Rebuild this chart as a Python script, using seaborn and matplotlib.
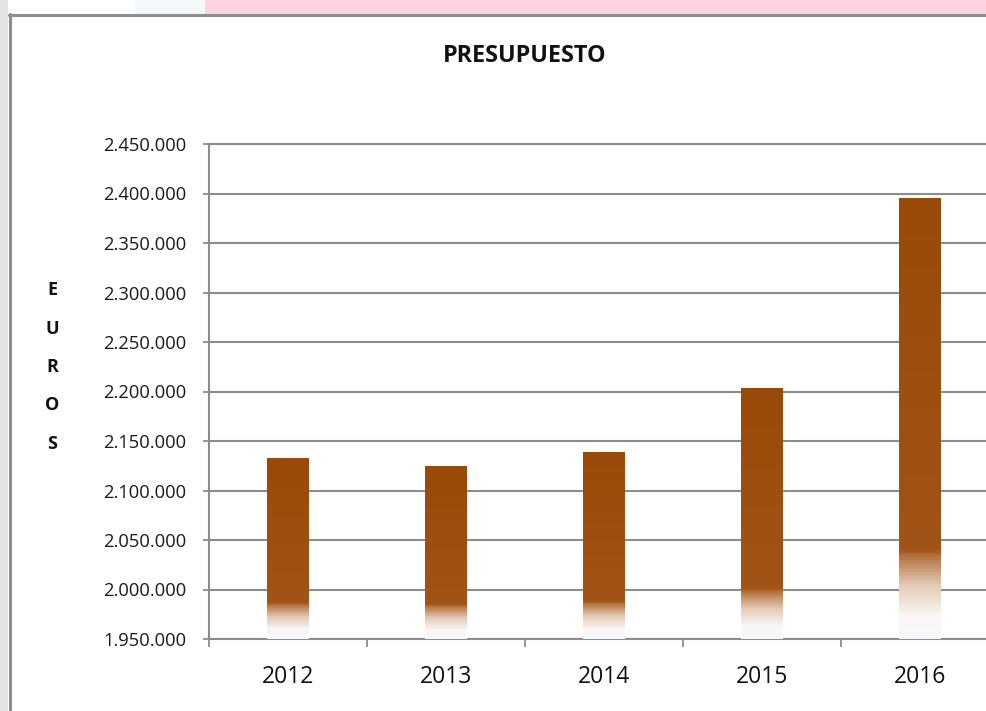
import numpy as np
import pandas as pd
import matplotlib
matplotlib.use("Agg")
import matplotlib.pyplot as plt
from matplotlib.lines import Line2D
from matplotlib.patches import Rectangle
from matplotlib.colors import LinearSegmentedColormap
from matplotlib.ticker import FixedLocator
import seaborn as sns

# Annual budget (euros)
years = ["2012", "2013", "2014", "2015", "2016"]
presupuesto = [2132800, 2124700, 2138900, 2203500, 2395500]
y_ticks = [1950000, 2000000, 2050000, 2100000, 2150000, 2200000,
           2250000, 2300000, 2350000, 2400000, 2450000]
y_tick_labels = ["1.950.000", "2.000.000", "2.050.000", "2.100.000", "2.150.000",
                 "2.200.000", "2.250.000", "2.300.000", "2.350.000", "2.400.000",
                 "2.450.000"]
title_text = "PRESUPUESTO"
ylabel_text = "EUROS"

sns.set_theme(style="white")
plt.rcParams["font.family"] = ["Open Sans", "DejaVu Sans"]

W, H = 986, 711
fig = plt.figure(figsize=(W / 100, H / 100), dpi=100)
fig.patch.set_facecolor("white")

# surroundings of the chart frame
fig.add_artist(Rectangle((205 / W, 1 - 14 / H), 1 - 205 / W, 14 / H,
                         transform=fig.transFigure, facecolor="#FFD3E1",
                         edgecolor="none", zorder=0))
fig.add_artist(Rectangle((135 / W, 1 - 14 / H), 70 / W, 14 / H,
                         transform=fig.transFigure, facecolor="#F3F8FA",
                         edgecolor="none", zorder=0))
fig.add_artist(Rectangle((0, 0), 8 / W, 1, transform=fig.transFigure,
                         facecolor="#E3E3E3", edgecolor="none", zorder=0))
frame_col = "#8E8E8E"
fig.add_artist(Line2D([9.5 / W, 9.5 / W], [0, 1 - 14 / H], transform=fig.transFigure,
                      color=frame_col, lw=2.2, zorder=1))
fig.add_artist(Line2D([8.5 / W, 1], [1 - 14.5 / H, 1 - 14.5 / H],
                      transform=fig.transFigure, color=frame_col, lw=2.2, zorder=1))

ax = fig.add_axes([209 / W, 72 / H, 790 / W, 495 / H])
ax.set_facecolor("none")

df = pd.DataFrame({"year": years, "value": presupuesto})
brown = "#9A4A08"
sns.barplot(data=df, x="year", y="value", color=brown, width=0.26,
            saturation=1, ax=ax, zorder=3)

ymin, ymax = y_ticks[0], y_ticks[-1]
ax.set_ylim(ymin, ymax)
ax.set_xlim(-0.5, len(years) - 0.5)

# gradient fill: solid brown fading to white toward the axis floor
stops = [
    (0.00, (0.97, 0.97, 0.99)),
    (0.05, (0.98, 0.97, 0.96)),
    (0.12, (0.89, 0.79, 0.71)),
    (0.185, (0.71, 0.45, 0.25)),
    (0.20, (0.63, 0.33, 0.09)),
    (1.00, (0.60, 0.29, 0.03)),
]
cmap = LinearSegmentedColormap.from_list("bar_fade", stops)
grad = np.linspace(0, 1, 400).reshape(-1, 1)
for patch in ax.patches:
    x0 = patch.get_x()
    w = patch.get_width()
    top = patch.get_y() + patch.get_height()
    patch.set_facecolor("none")
    patch.set_edgecolor("none")
    im = ax.imshow(grad, cmap=cmap, origin="lower", aspect="auto",
                   extent=[x0, x0 + w, ymin, top], interpolation="bilinear",
                   zorder=3)
    clip = Rectangle((x0, ymin), w, top - ymin, transform=ax.transData)
    im.set_clip_path(clip)
ax.set_xlim(-0.5, len(years) - 0.5)
ax.set_ylim(ymin, ymax)

# grid and axes
grid_col = "#8C8C8C"
ax.set_axisbelow(True)
ax.yaxis.grid(True, color=grid_col, lw=1.5, zorder=0)
ax.xaxis.grid(False)
for side in ["left", "bottom", "top"]:
    ax.spines[side].set_visible(True)
    ax.spines[side].set_color(grid_col)
    ax.spines[side].set_linewidth(1.5)
ax.spines["right"].set_visible(False)

ax.set_yticks(y_ticks)
ax.set_yticklabels(y_tick_labels, fontsize=13.2, color="#1a1a1a")
ax.tick_params(axis="y", which="major", direction="out", length=4.5, width=1.3,
               color=grid_col, pad=12, left=True)
ax.set_xticks(range(len(years)))
ax.set_xticklabels(years, fontsize=16.5, color="#111111")
ax.tick_params(axis="x", which="major", length=0, pad=18.5)
ax.xaxis.set_minor_locator(FixedLocator(np.arange(-0.5, len(years), 1.0)))
ax.tick_params(axis="x", which="minor", direction="out", length=6, width=1.3,
               color=grid_col, bottom=True)
ax.set_xlabel("")
ax.set_ylabel("")

# title and stacked axis label
fig.text(525 / W, 1 - 56 / H, title_text, ha="center", va="center",
         fontsize=16.8, fontweight="bold", color="#111111")
for i, ch in enumerate(ylabel_text):
    fig.text(52 / W, 1 - (290 + i * 38.5) / H, ch, ha="center", va="center",
             fontsize=13, fontweight="bold", color="#111111")

fig.savefig("out.png", dpi=100)
